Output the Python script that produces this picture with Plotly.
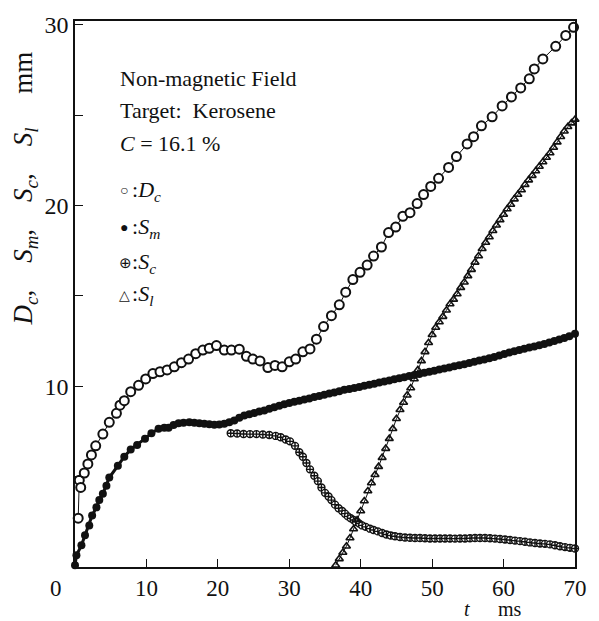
import plotly.graph_objects as go

# ---------------- data ----------------
dc_t = [0.45, 0.6, 0.8, 1.3, 1.8, 2.3, 2.9, 3.9, 4.8, 5.8, 6.3, 6.9, 7.8, 8.9, 9.9,
        10.9, 11.9, 12.9, 13.9, 14.9, 15.9, 16.9, 17.9, 18.8, 19.8, 20.9, 21.9, 23.0,
        24.0, 24.9, 25.9, 27.0, 28.0, 29.0, 30.0, 30.9, 31.9, 32.9, 33.8, 34.8, 35.9,
        37.0, 37.9, 38.9, 39.9, 40.9, 41.8, 42.9, 43.9, 44.9, 45.9, 46.9, 47.9, 48.8,
        49.8, 50.9, 52.3, 53.4, 54.9, 55.8, 56.9, 58.4, 59.8, 61.1, 62.4, 63.6, 64.3,
        65.5, 67.3, 68.7, 69.8]
dc_v = [2.7, 4.8, 4.4, 5.2, 5.7, 6.2, 6.7, 7.35, 8.0, 8.5, 8.95, 9.2, 9.7, 10.05, 10.4,
        10.7, 10.8, 10.9, 11.07, 11.3, 11.5, 11.8, 12.0, 12.1, 12.25, 12.0, 12.0, 12.05,
        11.65, 11.5, 11.4, 11.03, 11.15, 11.07, 11.35, 11.5, 11.9, 12.06, 12.6, 13.3, 13.9,
        14.5, 15.2, 15.9, 16.3, 16.7, 17.2, 17.7, 18.5, 18.8, 19.4, 19.6, 20.1, 20.6,
        21.05, 21.5, 22.1, 22.7, 23.4, 23.8, 24.4, 24.9, 25.5, 26.0, 26.5, 27.0, 27.55,
        28.1, 28.8, 29.4, 29.85]

sm_t = [0.0, 0.2, 0.9, 1.4, 2.0, 2.4, 3.0, 3.4, 3.9, 4.4, 4.8, 6.0, 6.9, 7.8, 8.7, 9.8,
        10.7, 11.7, 12.5, 13.1, 13.8, 14.5, 15.2, 16.0, 16.7, 17.4, 18.1, 18.8, 19.5,
        20.2, 20.9, 21.6, 22.3, 23.0, 23.7, 24.4, 25.1, 25.8, 26.5, 27.2, 27.9, 28.6,
        29.3, 30.0, 30.7, 31.4, 32.1, 32.8, 33.5, 34.2, 34.9, 35.6, 36.3, 37.0, 37.7,
        38.4, 39.1, 39.8, 40.5, 41.2, 41.9, 42.6, 43.3, 44.0, 44.7, 45.4, 46.1, 46.8,
        47.5, 48.2, 48.9, 49.6, 50.3, 51.0, 51.7, 52.4, 53.1, 53.8, 54.5, 55.2, 55.9,
        56.6, 57.3, 58.0, 58.7, 59.4, 60.1, 60.8, 61.5, 62.2, 62.9, 63.6, 64.3, 65.0,
        65.7, 66.4, 67.1, 67.8, 68.5, 69.2, 70.0]
sm_v = [0.1, 0.65, 1.2, 1.75, 2.3, 2.85, 3.3, 3.7, 4.05, 4.5, 4.95, 5.6, 6.1, 6.5, 6.75, 7.1,
        7.4, 7.65, 7.7, 7.7, 7.85, 7.95, 7.98, 8.0, 7.98, 7.95, 7.92, 7.9, 7.87,
        7.88, 7.92, 8.0, 8.1, 8.25, 8.38, 8.45, 8.52, 8.6, 8.66, 8.75, 8.84, 8.92,
        9.0, 9.07, 9.14, 9.2, 9.26, 9.32, 9.4, 9.46, 9.53, 9.6, 9.65, 9.72, 9.8,
        9.85, 9.9, 9.96, 10.02, 10.08, 10.14, 10.2, 10.26, 10.32, 10.38, 10.44, 10.5, 10.56,
        10.62, 10.68, 10.74, 10.8, 10.86, 10.92, 10.98, 11.04, 11.1, 11.16, 11.22, 11.28, 11.35,
        11.42, 11.48, 11.55, 11.62, 11.7, 11.78, 11.86, 11.93, 12.0, 12.07, 12.14, 12.2, 12.27,
        12.34, 12.42, 12.5, 12.58, 12.66, 12.76, 12.9]

sc_t = [21.8, 22.7, 23.6, 24.5, 25.4, 26.3, 27.2, 28.1, 28.8, 29.5, 30.1, 30.8, 31.4, 31.9,
        32.4, 32.9, 33.5, 34.0, 34.5, 35.0, 35.5, 35.9, 36.4, 36.9, 37.4, 37.8, 38.2, 38.6,
        39.0, 39.3, 39.8, 40.2, 40.7, 41.3, 41.8, 42.4, 43.0, 43.6, 44.2, 44.8, 45.5, 46.2,
        46.9, 47.6, 48.3, 49.0, 49.7, 50.4, 51.1, 51.8, 52.5, 53.2, 53.9, 54.6, 55.3, 56.0,
        56.7, 57.4, 58.1, 58.8, 59.5, 60.2, 60.9, 61.6, 62.3, 63.0, 63.7, 64.4, 65.1, 65.8,
        66.5, 67.2, 67.9, 68.6, 69.3, 70.0]
sc_v = [7.4, 7.38, 7.36, 7.35, 7.35, 7.33, 7.3, 7.25, 7.18, 7.05, 6.95, 6.7, 6.35, 6.1,
        5.75, 5.4, 5.05, 4.75, 4.4, 4.1, 3.9, 3.7, 3.45, 3.25, 3.1, 2.95, 2.8, 2.7,
        2.6, 2.5, 2.4, 2.3, 2.22, 2.12, 2.05, 1.97, 1.88, 1.8, 1.74, 1.7, 1.66, 1.63,
        1.62, 1.6, 1.6, 1.59, 1.58, 1.58, 1.58, 1.58, 1.58, 1.57, 1.58, 1.58, 1.59, 1.6,
        1.6, 1.6, 1.59, 1.57, 1.55, 1.52, 1.49, 1.46, 1.43, 1.4, 1.36, 1.33, 1.3, 1.28,
        1.25, 1.2, 1.15, 1.1, 1.06, 1.02]

sl_t = [36.5, 37.0, 37.5, 38.0, 38.5, 39.0, 39.5, 40.0, 40.5, 41.0, 41.5, 42.0, 42.5, 43.0,
        43.5, 44.0, 44.5, 45.0, 45.5, 46.0, 46.5, 47.0, 47.5, 48.0, 48.5, 49.0, 49.5, 50.0,
        50.5, 51.0, 51.5, 52.0, 52.5, 53.0, 53.5, 54.0, 54.5, 55.0, 55.5, 56.0, 56.5, 57.0,
        57.5, 58.0, 58.5, 59.0, 59.5, 60.0, 60.5, 61.0, 61.5, 62.0, 62.5, 63.0, 63.5, 64.0,
        64.5, 65.0, 65.5, 66.0, 66.5, 67.0, 67.5, 68.0, 68.5, 69.0, 69.5, 70.0]
sl_v = [0.1, 0.45, 0.8, 1.15, 1.6, 2.1, 2.6, 3.1, 3.65, 4.2, 4.65, 5.1, 5.55, 6.05,
        6.55, 7.1, 7.65, 8.2, 8.7, 9.1, 9.5, 9.9, 10.4, 10.9, 11.4, 11.9, 12.4, 12.85,
        13.25, 13.55, 13.85, 14.2, 14.55, 14.8, 15.1, 15.45, 15.75, 16.1, 16.45, 16.85, 17.2, 17.6,
        17.95, 18.25, 18.6, 18.9, 19.2, 19.5, 19.8, 20.05, 20.35, 20.6, 20.85, 21.15, 21.4, 21.65,
        21.9, 22.15, 22.4, 22.65, 22.9, 23.2, 23.5, 23.8, 24.1, 24.35, 24.55, 24.75]

x_tickvals = [10, 20, 30, 40, 50, 60, 70]
x_ticktext = ["10", "20", "30", "40", "50", "60", "70"]
y_tickvals = [5, 10, 15, 20, 25, 30]
y_ticktext = ["", "10", "", "20", "", "30"]

SERIF = "Liberation Serif, Times New Roman, serif"
INK = "#111111"

fig = go.Figure()

fig.add_trace(go.Scatter(x=sc_t, y=sc_v, mode="lines+markers",
                         line=dict(color=INK, width=1),
                         marker=dict(symbol="circle-cross", size=7, color="white",
                                     line=dict(color=INK, width=1.4)),
                         cliponaxis=False, showlegend=False))
fig.add_trace(go.Scatter(x=sl_t, y=sl_v, mode="lines+markers",
                         line=dict(color=INK, width=1),
                         marker=dict(symbol="triangle-up-open", size=7, color=INK,
                                     line=dict(color=INK, width=1.6)),
                         cliponaxis=False, showlegend=False))
fig.add_trace(go.Scatter(x=sm_t, y=sm_v, mode="lines+markers",
                         line=dict(color=INK, width=3),
                         marker=dict(symbol="circle", size=8, color=INK),
                         cliponaxis=False, showlegend=False))
fig.add_trace(go.Scatter(x=dc_t, y=dc_v, mode="lines+markers",
                         line=dict(color=INK, width=1),
                         marker=dict(symbol="circle", size=9, color="white",
                                     line=dict(color=INK, width=2)),
                         cliponaxis=False, showlegend=False))

fig.update_xaxes(range=[0, 70], tickvals=x_tickvals, ticktext=x_ticktext,
                 ticks="inside", ticklen=8, tickwidth=1.3, tickcolor=INK,
                 showline=True, linecolor=INK, linewidth=1.5, mirror=True,
                 showgrid=False, zeroline=False,
                 tickfont=dict(family=SERIF, size=23, color=INK))
fig.update_yaxes(range=[0, 30.2], tickvals=y_tickvals, ticktext=y_ticktext,
                 ticks="inside", ticklen=8, tickwidth=1.3, tickcolor=INK,
                 showline=True, linecolor=INK, linewidth=1.5, mirror=True,
                 showgrid=False, zeroline=False,
                 tickfont=dict(family=SERIF, size=24, color=INK))

W, H = 599, 621
L, R, T, B = 75, 16, 20, 54
pw, ph = W - L - R, H - T - B


def px(xp):
    return (xp - L) / pw


def py(yp):
    return (H - B - yp) / ph


annots = []


def txt(s, x, y, size=22, xanchor="left", **kw):
    annots.append(dict(text=s, x=px(x), y=py(y), xref="paper", yref="paper",
                       xanchor=xanchor, yanchor="middle", showarrow=False,
                       font=dict(family=SERIF, size=size, color=INK), **kw))


txt("Non-magnetic Field", 119, 78)
txt("Target:\u00a0 Kerosene", 119, 110)
txt("<i>C</i> = 16.1 %", 119, 143)
txt("\u25cb", 119, 190, size=14)
txt(":<i>D<sub>c</sub></i>", 131, 190)
txt("\u25cf", 119, 227, size=14)
txt(":<i>S<sub>m</sub></i>", 131, 227)
txt("\u2295", 118, 262, size=15)
txt(":<i>S<sub>c</sub></i>", 131, 262)
txt("\u25b3", 118, 295, size=14)
txt(":<i>S<sub>l</sub></i>", 131, 295)

txt("0", 56, 589, size=23, xanchor="center")
txt("<i>t</i>", 473, 609, size=20, xanchor="center")
txt("ms", 517, 609, size=20, xanchor="center")

annots.append(dict(text="<i>D<sub>c</sub></i>,\u00a0\u00a0\u00a0 <i>S<sub>m</sub></i>,\u00a0\u00a0\u00a0 "
                        "<i>S<sub>c</sub></i>,\u00a0\u00a0\u00a0 <i>S<sub>l</sub></i>\u00a0\u00a0\u00a0\u00a0 mm",
                   x=px(24), y=py(188), xref="paper", yref="paper",
                   xanchor="center", yanchor="middle", showarrow=False, textangle=-90,
                   font=dict(family=SERIF, size=27, color=INK)))

fig.update_layout(width=W, height=H, autosize=False,
                  margin=dict(l=L, r=R, t=T, b=B, pad=0),
                  paper_bgcolor="white", plot_bgcolor="white",
                  annotations=annots, showlegend=False)

fig.write_html("out.html")
